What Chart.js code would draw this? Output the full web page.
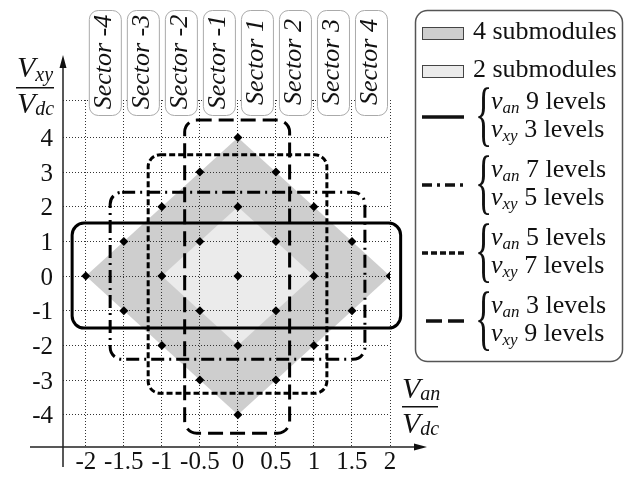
<!DOCTYPE html>
<html>
<head>
<meta charset="utf-8">
<script src="https://cdn.jsdelivr.net/npm/chart.js@4.4.0/dist/chart.umd.min.js"></script>
<style>
  html, body { margin: 0; padding: 0; background: #fff; }
  #wrap { position: relative; width: 634px; height: 478px; }
  #labels { position: absolute; left: 0; top: 0; width: 634px; height: 478px; pointer-events: none; }
  #labels div { position: absolute; white-space: nowrap; color: #111; font-family: 'Liberation Serif', 'Times New Roman', Tinos, 'DejaVu Serif', 'Noto Serif', serif; }
  #labels i.sub { position: relative; line-height: 0; }
</style>
</head>
<body>
<div id="wrap">
  <canvas id="chart" width="634" height="478"></canvas>
  <div id="labels"></div>
</div>
<script>
// axis ticks
const xTicks = [-2, -1.5, -1, -0.5, 0, 0.5, 1, 1.5, 2];
const xTickLabels = ['-2', '-1.5', '-1', '-0.5', '0', '0.5', '1', '1.5', '2'];
const yTicks = [-4, -3, -2, -1, 0, 1, 2, 3, 4];
const yTickLabels = ['-4', '-3', '-2', '-1', '0', '1', '2', '3', '4'];

const sectorLabels = ['Sector -4', 'Sector -3', 'Sector -2', 'Sector -1', 'Sector 1', 'Sector 2', 'Sector 3', 'Sector 4'];

// shaded areas (diamond corners)
const fourSubX = [-2, 0, 2, 0];
const fourSubY = [0, 4, 0, -4];
const twoSubX = [-1, 0, 1, 0];
const twoSubY = [0, 2, 0, -2];
const areaLabels = ['4 submodules', '2 submodules'];

// switching states
const stateX = [0, -0.5, 0.5, -1, 0, 1, -1.5, -0.5, 0.5, 1.5, -2, -1, 0, 1, 2, -1.5, -0.5, 0.5, 1.5, -1, 0, 1, -0.5, 0.5, 0];
const stateY = [4, 3, 3, 2, 2, 2, 1, 1, 1, 1, 0, 0, 0, 0, 0, -1, -1, -1, -1, -2, -2, -2, -3, -3, -4];

// level boxes: solid, dash-dot, short dash, long dash
const boxLeft = [-2.18, -1.68, -1.18, -0.70];
const boxRight = [2.14, 1.67, 1.17, 0.68];
const boxTop = [1.53, 2.42, 3.50, 4.50];
const boxBottom = [-1.50, -2.40, -3.38, -4.53];
const vanLevels = [9, 7, 5, 3];
const vxyLevels = [3, 5, 7, 9];

const dashes = [[], [13, 5, 2, 5], [6, 3], [15, 7]];
const legendDashes = [[], [10, 5, 3, 5], [6, 3], [16, 6]];
const areaColors = ['#cecece', '#ebebeb'];

function pts(xs, ys) {
    return xs.map((x, i) => ({ x: x, y: ys[i] }));
}

function rrect(ctx, x, y, w, h, r) {
    ctx.moveTo(x + r, y);
    ctx.arcTo(x + w, y, x + w, y + h, r);
    ctx.arcTo(x + w, y + h, x, y + h, r);
    ctx.arcTo(x, y + h, x, y, r);
    ctx.arcTo(x, y, x + w, y, r);
    ctx.closePath();
}

// the filler paints the last dataset first, so the light area goes first
const datasets = [
    {
        label: areaLabels[1], data: pts(twoSubX, twoSubY), showLine: true, fill: 'shape',
        backgroundColor: areaColors[1], borderColor: 'rgba(0,0,0,0)', borderWidth: 0, pointRadius: 0
    },
    {
        label: areaLabels[0], data: pts(fourSubX, fourSubY), showLine: true, fill: 'shape',
        backgroundColor: areaColors[0], borderColor: 'rgba(0,0,0,0)', borderWidth: 0, pointRadius: 0
    },
    {
        label: 'states', data: pts(stateX, stateY), pointStyle: 'rectRot', pointRadius: 4.5,
        backgroundColor: '#000', borderColor: '#000', borderWidth: 0
    }
];
boxLeft.forEach((l, i) => {
    datasets.push({
        label: 'van ' + vanLevels[i] + ' / vxy ' + vxyLevels[i],
        data: [{ x: l, y: boxBottom[i] }, { x: boxRight[i], y: boxTop[i] }],
        pointRadius: 0, showLine: false, roundBox: true,
        borderDash: dashes[i], borderColor: '#000', borderWidth: 3
    });
});

// rounded boxes drawn from the dataset's two corner points
const boxPlugin = {
    id: 'roundBoxes',
    afterDatasetsDraw(chart) {
        const ctx = chart.ctx;
        chart.data.datasets.forEach((ds, i) => {
            if (!ds.roundBox) return;
            const p = chart.getDatasetMeta(i).data;
            const x0 = Math.min(p[0].x, p[1].x), x1 = Math.max(p[0].x, p[1].x);
            const y0 = Math.min(p[0].y, p[1].y), y1 = Math.max(p[0].y, p[1].y);
            ctx.save();
            ctx.strokeStyle = ds.borderColor;
            ctx.lineWidth = ds.borderWidth;
            ctx.setLineDash(ds.borderDash);
            ctx.beginPath();
            rrect(ctx, x0, y0, x1 - x0, y1 - y0, 12);
            ctx.stroke();
            ctx.restore();
        });
    }
};

// text goes in html on top of the canvas; baseline placed from serif metrics
const labelsEl = document.getElementById('labels');
function put(html, left, baseline, size, style) {
    const d = document.createElement('div');
    d.innerHTML = html;
    d.style.left = left + 'px';
    d.style.top = (baseline - 0.8375 * size) + 'px';
    d.style.fontSize = size + 'px';
    d.style.lineHeight = size + 'px';
    Object.assign(d.style, style || {});
    labelsEl.appendChild(d);
    return d;
}
function vSub(main, sub, subSize, drop) {
    return '<i>' + main + '</i><i class="sub" style="font-size:' + subSize + 'px;top:' + drop + 'px">' + sub + '</i>';
}

const decorPlugin = {
    id: 'decor',
    afterDraw(chart) {
        const ctx = chart.ctx;
        const xs = chart.scales.x, ys = chart.scales.y;
        const ax = xs.left, ay = ys.bottom;
        ctx.save();
        ctx.fillStyle = '#111';
        ctx.strokeStyle = '#222';

        // axes with arrows
        ctx.lineWidth = 1.5;
        ctx.beginPath();
        ctx.moveTo(ax, ay + 20); ctx.lineTo(ax, 64);
        ctx.moveTo(30, ay); ctx.lineTo(418, ay);
        ctx.stroke();
        ctx.beginPath();
        ctx.moveTo(ax, 55); ctx.lineTo(ax - 3.5, 68); ctx.lineTo(ax + 3.5, 68); ctx.closePath();
        ctx.moveTo(427, ay); ctx.lineTo(414, ay - 3.5); ctx.lineTo(414, ay + 3.5); ctx.closePath();
        ctx.fill();

        // fraction bars of the axis titles
        ctx.fillRect(16, 87, 38, 1.5);
        ctx.fillRect(402, 406, 36, 1.5);

        // sector boxes between vertical grid lines
        sectorLabels.forEach((lbl, i) => {
            const x0 = xs.getPixelForValue(xTicks[i]) + 3;
            const x1 = xs.getPixelForValue(xTicks[i + 1]) - 3;
            ctx.fillStyle = '#fff';
            ctx.strokeStyle = '#aaa';
            ctx.lineWidth = 1;
            ctx.beginPath();
            rrect(ctx, x0 + 0.5, 10.5, x1 - x0, 105, 9);
            ctx.fill();
            ctx.stroke();
        });

        // legend frame and swatches
        ctx.strokeStyle = '#555';
        ctx.lineWidth = 1.5;
        ctx.beginPath();
        rrect(ctx, 415.5, 10.5, 207, 351, 12);
        ctx.stroke();
        areaLabels.forEach((lbl, i) => {
            const y = 27 + i * 38;
            ctx.fillStyle = areaColors[i];
            ctx.fillRect(422, y, 41, 12);
            ctx.strokeStyle = '#444';
            ctx.lineWidth = 1;
            ctx.strokeRect(422.5, y + 0.5, 41, 12);
        });
        vanLevels.forEach((lv, i) => {
            const c = 119 + i * 68;
            ctx.strokeStyle = '#111';
            ctx.lineWidth = 3.5;
            ctx.setLineDash(legendDashes[i]);
            ctx.beginPath();
            ctx.moveTo(i === 3 ? 426 : 422, c - 2);
            ctx.lineTo(464, c - 2);
            ctx.stroke();
            ctx.setLineDash([]);
        });
        ctx.restore();

        // html text
        labelsEl.innerHTML = '';
        yTicks.forEach((v, i) => {
            put(yTickLabels[i], 0, ys.getPixelForValue(v) + 8.5, 25, { width: (ax - 10) + 'px', textAlign: 'right' });
        });
        xTicks.forEach((v, i) => {
            put(xTickLabels[i], xs.getPixelForValue(v) - 40, 469, 25, { width: '80px', textAlign: 'center' });
        });
        put(vSub('V', 'xy', 20, 4), 17, 77, 30);
        put(vSub('V', 'dc', 20, 2), 17, 113, 30);
        put(vSub('V', 'an', 20, 2), 402, 398, 30);
        put(vSub('V', 'dc', 20, 2), 402, 433, 30);

        sectorLabels.forEach((lbl, i) => {
            const cx = (xs.getPixelForValue(xTicks[i]) + xs.getPixelForValue(xTicks[i + 1])) / 2 - 2;
            const d = put('<i>' + lbl + '</i>', cx, 62, 26, {});
            d.style.top = '62px';
            d.style.transform = 'translate(-50%, -50%) rotate(-90deg)';
        });

        areaLabels.forEach((lbl, i) => {
            put(lbl, 473, 40 + i * 38, 26);
        });
        vanLevels.forEach((lv, i) => {
            const c = 119 + i * 68;
            const b = put('{', 475, c + 9, 36, { transform: 'scaleY(2)', transformOrigin: '50% 21px' });
            b.style.top = (c - 21) + 'px';
            put(vSub('v', 'an', 17, 4) + ' ' + lv + ' levels', 491, c - 9, 26);
            put(vSub('v', 'xy', 17, 4) + ' ' + vxyLevels[i] + ' levels', 491, c + 19, 26);
        });
    }
};

new Chart(document.getElementById('chart').getContext('2d'), {
    type: 'scatter',
    data: { datasets: datasets },
    options: {
        responsive: false,
        animation: false,
        layout: { padding: { left: 0, top: 100, right: 244, bottom: 0 } },
        plugins: {
            legend: { display: false },
            tooltip: { enabled: false },
            filler: { drawTime: 'beforeDraw' }
        },
        scales: {
            x: {
                type: 'linear', min: -2.30, max: 2,
                afterBuildTicks: s => { s.ticks = xTicks.map(v => ({ value: v })); },
                afterFit: s => { s.height = 31; },
                grid: { color: '#333', lineWidth: 1, drawTicks: false },
                border: { display: false, dash: [1, 2] },
                ticks: { display: false, autoSkip: false, maxRotation: 0 }
            },
            y: {
                type: 'linear', min: -4.93, max: 5.08,
                afterBuildTicks: s => { s.ticks = yTicks.map(v => ({ value: v })).concat([{ value: s.max }]); },
                afterFit: s => { s.width = 63; },
                grid: { color: '#333', lineWidth: 1, drawTicks: false },
                border: { display: false, dash: [1, 2] },
                ticks: { display: false, autoSkip: false }
            }
        }
    },
    plugins: [boxPlugin, decorPlugin]
});
</script>
</body>
</html>
